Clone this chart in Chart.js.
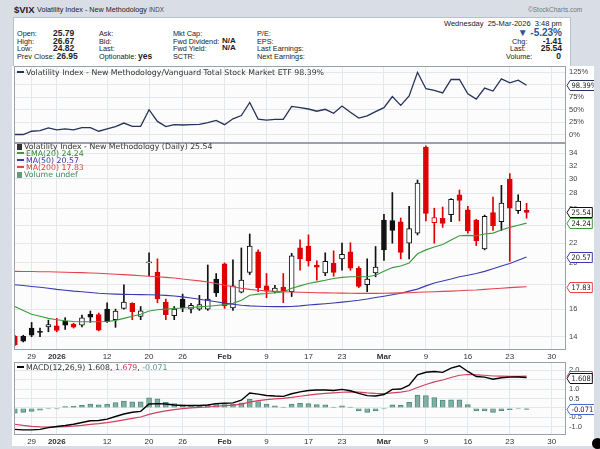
<!DOCTYPE html>
<html>
<head>
<meta charset="utf-8">
<script src="https://cdn.jsdelivr.net/npm/chart.js@4.4.1/dist/chart.umd.min.js"></script>
<style>
  body { margin: 0; width: 600px; height: 449px; background: #d9dee6; position: relative; overflow: hidden;
         font-family: "Liberation Sans", Arial, sans-serif; color: #222; }
  .abs { position: absolute; white-space: nowrap; line-height: 1; }
  #info { position: absolute; left: 13px; top: 17px; width: 556px; height: 50px; background: #fff; border: 1px solid #b9c0cb; }
  .lab { font-size: 7.3px; }
  .val { font-size: 8.5px; font-weight: bold; }
  canvas { position: absolute; left: 12px; background: #fff; }
  .lg { position: absolute; font: 7.8px "DejaVu Sans", sans-serif; color: #333; white-space: nowrap; line-height: 7px; }
  .sw { display: inline-block; width: 7px; height: 2px; vertical-align: middle; margin-right: 2px; position: relative; top: -1px; }
</style>
</head>
<body>
<div class="abs" style="left:14px;top:4.5px;font-size:9.5px;font-weight:bold;">$VIX</div>
<div class="abs" style="left:37px;top:6px;font-size:7.2px;">Volatility Index - New Methodology <span style="font-size:6.3px;color:#444">INDX</span></div>
<div class="abs" style="left:528px;top:7px;font-size:6.5px;color:#777;">&copy;StockCharts.com</div>

<div id="info"></div>
<div class="abs" style="left:444px;top:20px;font-size:7.5px;">Wednesday&nbsp; 25-Mar-2026&nbsp; 3:48 pm</div>

<div class="abs lab" style="left:17px;top:29.5px;">Open:</div><div class="abs val" style="left:53px;top:28.5px;">25.79</div>
<div class="abs lab" style="left:17px;top:37.5px;">High:</div><div class="abs val" style="left:53px;top:36.5px;">26.67</div>
<div class="abs lab" style="left:17px;top:45px;">Low:</div><div class="abs val" style="left:53px;top:44px;">24.82</div>
<div class="abs lab" style="left:17px;top:52.5px;">Prev Close:</div><div class="abs val" style="left:56.5px;top:51.5px;">26.95</div>

<div class="abs lab" style="left:99px;top:29.5px;">Ask:</div>
<div class="abs lab" style="left:99px;top:37.5px;">Bid:</div>
<div class="abs lab" style="left:99px;top:45px;">Last:</div>
<div class="abs lab" style="left:99px;top:52.5px;">Optionable:</div><div class="abs val" style="left:138px;top:52px;">yes</div>

<div class="abs lab" style="left:173px;top:29.5px;">Mkt Cap:</div>
<div class="abs lab" style="left:173px;top:37.5px;">Fwd Dividend:</div><div class="abs val" style="left:222px;top:36.5px;font-size:8px;">N/A</div>
<div class="abs lab" style="left:173px;top:45px;">Fwd Yield:</div><div class="abs val" style="left:222px;top:44px;font-size:8px;">N/A</div>
<div class="abs lab" style="left:173px;top:52.5px;">SCTR:</div>

<div class="abs lab" style="left:257px;top:29.5px;">P/E:</div>
<div class="abs lab" style="left:257px;top:37.5px;">EPS:</div>
<div class="abs lab" style="left:257px;top:45px;">Last Earnings:</div>
<div class="abs lab" style="left:257px;top:52.5px;">Next Earnings:</div>

<div class="abs" style="right:38px;top:27.5px;font-size:10px;font-weight:bold;color:#2f5597;">&#9660; -5.23%</div>
<div class="abs lab" style="left:512px;top:37.5px;">Chg:</div><div class="abs val" style="right:38px;top:36.5px;">-1.41</div>
<div class="abs lab" style="left:510px;top:45px;">Last:</div><div class="abs val" style="right:38px;top:44px;">25.54</div>
<div class="abs lab" style="left:506px;top:52.5px;">Volume:</div><div class="abs val" style="right:39px;top:51.5px;">0</div>

<canvas id="ratioChart" width="582" height="77" style="top:66px"></canvas>
<canvas id="priceChart" width="582" height="218" style="top:143px"></canvas>
<canvas id="macdChart" width="582" height="85" style="top:361px"></canvas>

<div class="lg" style="left:17px;top:69px;"><span class="sw" style="background:#26335a"></span>Volatility Index - New Methodology/Vanguard Total Stock Market ETF 98.39%</div>

<div class="lg" style="left:17px;top:143px;"><span class="sw" style="width:5px;height:6px;background:#333;top:0"></span>Volatility Index - New Methodology (Daily) 25.54</div>
<div class="lg" style="left:17px;top:150px;color:#2f8a2f"><span class="sw" style="background:#3c9a3c"></span>EMA(20) 24.24</div>
<div class="lg" style="left:17px;top:157px;color:#3535a8"><span class="sw" style="background:#3b3bb0"></span>MA(50) 20.57</div>
<div class="lg" style="left:17px;top:164px;color:#d83a3a"><span class="sw" style="background:#e8424a"></span>MA(200) 17.83</div>
<div class="lg" style="left:17px;top:171px;color:#3b8a5a"><span class="sw" style="width:5px;height:6px;background:#6a9a7a;top:0"></span>Volume undef</div>

<div class="lg" style="left:17px;top:364px;"><span class="sw" style="background:#000"></span>MACD(12,26,9) 1.608, <span style="color:#c8385a">1.679</span>, <span style="color:#5a9a8a">-0.071</span></div>

<div class="abs" style="left:592px;top:438px;width:11px;height:11px;border-radius:6px;background:#000;"></div>

<script>
// trading days shown on the chart, plus the empty days at the right edge
const days = ['Dec 24','Dec 26','Dec 29','Dec 30','Dec 31','Jan 2','Jan 5','Jan 6','Jan 7','Jan 8','Jan 9',
  'Jan 12','Jan 13','Jan 14','Jan 15','Jan 16','Jan 20','Jan 21','Jan 22','Jan 23','Jan 26','Jan 27','Jan 28',
  'Jan 29','Jan 30','Feb 2','Feb 3','Feb 4','Feb 5','Feb 6','Feb 9','Feb 10','Feb 11','Feb 12','Feb 13',
  'Feb 17','Feb 18','Feb 19','Feb 20','Feb 23','Feb 24','Feb 25','Feb 26','Feb 27','Mar 2','Mar 3','Mar 4',
  'Mar 5','Mar 6','Mar 9','Mar 10','Mar 11','Mar 12','Mar 13','Mar 16','Mar 17','Mar 18','Mar 19','Mar 20',
  'Mar 23','Mar 24','Mar 25'];
const futureDays = ['Mar 26','Mar 27','Mar 30','Mar 31'];

const tickDates = ['Dec 29','Jan 2','Jan 12','Jan 20','Jan 26','Feb 2','Feb 9','Feb 17','Feb 23','Mar 2','Mar 9','Mar 16','Mar 23','Mar 30'];
const tickLabels = ['29','2026','12','20','26','Feb','9','17','23','Mar','9','16','23','30'];
const boldTicks = ['2026','Feb','Mar'];

const priorClose = 14.2;
const open  = [14.02,14.03,14.6,14.35,14.68,14.75,15.1,14.88,14.8,15.6,15.58,16.0,15.2,16.05,16.45,15.45,20.0,19.1,16.55,15.5,
  16.8,16.0,16.0,16.0,18.5,19.9,16.1,17.37,19.1,21.1,17.9,17.4,17.8,17.4,21.5,21.7,19.8,19.05,19.95,20.4,
  21.1,19.5,18.0,19.05,24.6,24.55,24.4,22.0,23.1,35.0,24.3,24.8,25.25,27.8,25.85,24.6,21.4,25.5,24.4,30.0,25.75,25.79];
const high  = [14.1,14.1,15.0,14.6,15.17,15.3,15.35,14.95,15.55,15.85,15.7,16.5,16.0,18.0,16.5,16.2,21.0,20.4,16.8,16.2,
  17.2,16.45,17.1,19.8,19.0,20.0,20.3,21.5,23.0,21.3,19.0,17.95,19.0,20.95,22.35,22.9,20.2,21.0,21.2,22.0,
  22.05,19.65,20.4,21.65,25.3,28.1,24.85,26.3,29.85,35.2,26.05,26.2,27.3,28.45,26.3,24.7,25.2,27.5,29.1,30.8,27.8,26.67];
const low   = [13.4,13.65,14.0,14.0,14.34,14.34,14.5,14.6,14.68,15.0,14.4,15.0,14.65,16.0,15.2,15.2,18.8,16.5,15.2,15.2,
  15.8,15.7,15.9,15.9,17.0,16.05,15.9,17.3,18.9,17.4,16.9,17.3,16.5,17.0,19.3,19.7,18.4,18.8,18.75,19.3,
  19.3,17.75,17.4,18.7,20.25,22.0,20.4,20.4,22.9,24.5,22.0,23.75,24.4,24.5,23.1,21.75,21.3,23.4,23.4,20.15,25.4,24.82];
const close = [13.45,13.7,14.1,14.3,14.85,14.43,14.8,14.67,15.34,15.38,14.45,15.05,15.85,16.55,15.8,15.86,20.09,16.8,15.58,16.0,
  16.1,16.3,16.35,16.8,17.3,16.25,17.9,18.4,21.7,17.75,17.45,17.7,17.45,20.7,20.4,20.2,19.6,20.15,19.1,20.85,
  19.5,17.85,18.5,19.6,21.3,23.4,21.05,23.6,29.4,25.4,24.9,24.2,27.2,27.05,23.35,22.25,25.05,23.95,26.7,26.05,26.95,25.54];

const ema20 = [16.2,15.9,15.6,15.45,15.3,15.2,15.12,15.07,15.05,15.05,15.05,15.07,15.15,15.3,15.45,15.6,15.85,15.95,16.0,16.05,
  16.08,16.12,16.17,16.22,16.28,16.35,16.45,16.7,17.1,17.2,17.25,17.32,17.38,17.7,17.9,18.1,18.25,18.4,18.55,18.65,
  18.7,18.7,18.7,18.85,19.2,19.55,19.7,20.0,20.9,21.3,21.6,21.85,22.35,22.8,22.85,22.8,23.0,23.1,23.45,23.75,24.0,24.24];
const ma50  = [18.0,17.93,17.85,17.78,17.7,17.6,17.52,17.45,17.4,17.33,17.27,17.23,17.2,17.18,17.17,17.16,17.15,17.13,17.1,17.05,
  16.97,16.88,16.78,16.68,16.58,16.47,16.38,16.3,16.25,16.22,16.2,16.19,16.19,16.2,16.25,16.32,16.37,16.42,16.48,16.55,
  16.62,16.7,16.8,16.92,17.03,17.15,17.27,17.45,17.62,17.9,18.15,18.33,18.5,18.7,18.85,19.0,19.2,19.45,19.7,19.95,20.25,20.57];
const ma200 = [19.2,19.19,19.18,19.17,19.16,19.14,19.12,19.1,19.08,19.05,19.02,18.98,18.94,18.9,18.85,18.8,18.75,18.7,18.65,18.6,
  18.5,18.42,18.34,18.24,18.1,17.95,17.82,17.7,17.6,17.52,17.47,17.43,17.4,17.38,17.36,17.34,17.32,17.3,17.29,17.28,
  17.27,17.26,17.26,17.26,17.27,17.28,17.3,17.32,17.35,17.38,17.4,17.43,17.45,17.48,17.52,17.55,17.6,17.65,17.7,17.75,17.79,17.83];

const ratioPct = [0,0,6.5,7.9,13.1,9.2,11.1,9.2,13.7,13.7,6.5,11.1,15.7,22.9,16.4,16.4,49.7,26.2,15.7,19.6,
  19.0,19.6,20.3,23.6,28.1,19.6,31.4,38.0,64.1,30.8,28.8,30.1,30.1,56.3,53.7,51.0,46.5,50.4,42.5,56.9,
  44.5,32.7,37.3,45.8,53.7,75.9,58.3,77.2,124.4,91.6,88.4,83.1,110.0,110.0,81.2,70.7,92.9,87.0,111.3,103.4,108.6,98.39];

const macdLine = [-1.13,-1.16,-1.16,-1.13,-1.04,-0.98,-0.93,-0.86,-0.77,-0.68,-0.66,-0.59,-0.45,-0.32,-0.23,-0.18,0.21,0.23,0.21,0.16,
  0.13,0.13,0.13,0.16,0.23,0.25,0.27,0.41,0.79,0.73,0.66,0.63,0.61,0.75,0.85,0.92,0.95,0.95,0.92,0.98,
  0.91,0.77,0.65,0.63,0.71,0.98,1.0,1.21,1.75,1.89,1.93,1.88,2.11,2.23,1.93,1.66,1.63,1.52,1.6,1.63,1.64,1.608];
const macdSignal = [-0.86,-0.92,-0.97,-1.0,-1.01,-1.0,-0.99,-0.96,-0.92,-0.87,-0.83,-0.78,-0.71,-0.63,-0.55,-0.48,-0.34,-0.23,-0.15,-0.09,
  -0.04,0.0,0.03,0.05,0.09,0.12,0.15,0.2,0.31,0.39,0.44,0.48,0.51,0.56,0.62,0.68,0.73,0.77,0.8,0.83,
  0.85,0.84,0.8,0.77,0.76,0.8,0.84,0.91,1.08,1.24,1.38,1.48,1.61,1.73,1.77,1.75,1.73,1.69,1.68,1.67,1.67,1.679];
const macdHist = [-0.27,-0.23,-0.18,-0.12,-0.04,-0.01,0.07,0.09,0.14,0.2,0.16,0.21,0.29,0.36,0.32,0.32,0.54,0.48,0.3,0.23,
  0.16,0.14,0.14,0.16,0.23,0.18,0.2,0.27,0.45,0.34,0.2,0.11,0.04,0.21,0.25,0.23,0.18,0.16,0.05,0.11,
  0.01,-0.16,-0.23,-0.16,-0.03,0.16,0.14,0.3,0.68,0.66,0.55,0.41,0.43,0.43,0.18,-0.16,-0.16,-0.23,-0.14,-0.09,-0.05,-0.071];

const ratioTicks = [0, 25, 50, 75, 100, 125];
const priceTicks = [14, 16, 18, 20, 22, 24, 26, 28, 30, 32, 34];
const macdTicks = [-1.0, -0.5, 0, 0.5, 1.0, 1.5, 2.0];

const allDays = days.concat(futureDays);
const tickIdx = tickDates.map(d => allDays.indexOf(d));
const pts = arr => arr.map((v, i) => ({ x: i, y: v }));

const candleColor = close.map((c, i) => c < (i ? close[i - 1] : priorClose) ? '#e00000' : '#111');
const candleFill = close.map((c, i) => c < open[i] ? candleColor[i] : '#fff');

const FONT = '"Liberation Sans", Arial, sans-serif';
const TAG_FONT = '7.5px "Liberation Sans Narrow", "DejaVu Sans Condensed", "Liberation Sans", sans-serif';
Chart.defaults.font.family = FONT;
Chart.defaults.font.size = 8;
Chart.defaults.animation = false;

function xAxis(showLabels) {
  return {
    type: 'linear', min: -0.1, max: 65.7, offset: false, bounds: 'data',
    afterBuildTicks: s => { s.ticks = tickIdx.map(v => ({ value: v })); },
    afterFit: s => { s.height = showLabels ? 11 : 0; s.paddingLeft = 0; s.paddingRight = 0; },
    grid: { color: '#e4e7ec', drawTicks: false, offset: false },
    border: { display: false },
    ticks: {
      display: showLabels, autoSkip: false, maxRotation: 0, padding: 2, color: '#333',
      callback: v => tickLabels[tickIdx.indexOf(v)],
      font: ctx => ({ family: FONT, size: 8,
        weight: ctx.tick && boldTicks.includes(tickLabels[tickIdx.indexOf(ctx.tick.value)]) ? 'bold' : 'normal' })
    }
  };
}

function yAxis(extra, ticks, fmt) {
  return Object.assign({
    position: 'right', bounds: 'data',
    afterBuildTicks: s => { s.ticks = ticks.map(v => ({ value: v })); },
    afterFit: s => { s.width = 28; s.paddingTop = 0; s.paddingBottom = 0; },
    grid: { color: '#e4e7ec', drawTicks: false },
    border: { display: false },
    ticks: { padding: 3, color: '#444', font: { size: 7.5 }, callback: fmt }
  }, extra);
}

const panelFrame = {
  id: 'panelFrame',
  beforeDraw(chart) {
    const a = chart.chartArea, ctx = chart.ctx;
    ctx.save();
    ctx.fillStyle = '#fcfcfd';
    ctx.fillRect(a.left, a.top, a.right - a.left, a.bottom - a.top);
    ctx.restore();
  },
  afterDraw(chart) {
    const a = chart.chartArea, ctx = chart.ctx;
    ctx.save();
    ctx.strokeStyle = '#9aa1ab';
    ctx.lineWidth = 1;
    ctx.strokeRect(a.left + 0.5, a.top + 0.5, a.right - a.left - 1, a.bottom - a.top - 1);
    ctx.restore();
  }
};

// value boxes hanging off the right edge of a panel
function valueTags(items) {
  return {
    id: 'valueTags',
    afterDraw(chart) {
      const ctx = chart.ctx, y = chart.scales.y, x0 = chart.chartArea.right + 1;
      ctx.save();
      ctx.font = TAG_FONT;
      ctx.textBaseline = 'middle';
      items.forEach(t => {
        const py = Math.round(y.getPixelForValue(t.value)) + 0.5;
        const w = ctx.measureText(t.text).width + 3;
        ctx.beginPath();
        ctx.moveTo(x0, py);
        ctx.lineTo(x0 + 3, py - 5);
        ctx.lineTo(x0 + 3 + w, py - 5);
        ctx.lineTo(x0 + 3 + w, py + 5);
        ctx.lineTo(x0 + 3, py + 5);
        ctx.closePath();
        ctx.fillStyle = '#fff';
        ctx.fill();
        ctx.strokeStyle = t.color;
        ctx.lineWidth = 1;
        ctx.stroke();
        ctx.fillStyle = '#222';
        ctx.fillText(t.text, x0 + 4.5, py + 0.5);
      });
      ctx.restore();
    }
  };
}

const last = arr => arr[arr.length - 1];
const lineDs = (data, color, width, order) => ({
  type: 'line', data: pts(data), borderColor: color, borderWidth: width,
  pointRadius: 0, tension: 0, order: order
});
const baseOpts = (padTop) => ({
  responsive: false,
  layout: { padding: { left: 2, right: 0, top: padTop, bottom: 0 } },
  plugins: { legend: { display: false }, tooltip: { enabled: false } },
  events: []
});

new Chart(document.getElementById('ratioChart'), {
  type: 'line',
  data: { datasets: [lineDs(ratioPct, '#26335a', 1.3, 0)] },
  options: Object.assign(baseOpts(0), {
    scales: {
      x: xAxis(false),
      y: yAxis({ type: 'linear', min: -17, max: 137 }, ratioTicks, v => v + '%')
    }
  }),
  plugins: [panelFrame, valueTags([{ value: last(ratioPct), text: last(ratioPct).toFixed(2) + '%', color: '#26335a' }])]
});

new Chart(document.getElementById('priceChart'), {
  type: 'bar',
  data: {
    datasets: [
      { data: days.map((d, i) => ({ x: i, y: [low[i], high[i]] })), backgroundColor: candleColor,
        barThickness: 1, grouped: false, minBarLength: 1, order: 3 },
      { data: days.map((d, i) => ({ x: i, y: [open[i], close[i]] })), backgroundColor: candleFill,
        borderColor: candleColor, borderWidth: 1, borderSkipped: false, barThickness: 5,
        grouped: false, minBarLength: 1, order: 2 },
      lineDs(ma200, '#e8424a', 1.1, 1),
      lineDs(ma50, '#3b3bb0', 1.1, 1),
      lineDs(ema20, '#3c9a3c', 1.1, 1)
    ]
  },
  options: Object.assign(baseOpts(0), {
    scales: {
      x: xAxis(true),
      y: yAxis({ type: 'logarithmic', min: 13.13, max: 35.7 }, priceTicks, v => String(v))
    }
  }),
  plugins: [panelFrame, valueTags([
    { value: last(ma200), text: last(ma200).toFixed(2), color: '#e8424a' },
    { value: last(ma50), text: last(ma50).toFixed(2), color: '#3b3bb0' },
    { value: last(ema20), text: last(ema20).toFixed(2), color: '#3c9a3c' },
    { value: last(close), text: last(close).toFixed(2), color: '#111' }
  ])]
});

new Chart(document.getElementById('macdChart'), {
  type: 'bar',
  data: {
    datasets: [
      { data: pts(macdHist), backgroundColor: '#7fb0a2', borderColor: '#4f8c7c', borderWidth: 1,
        barThickness: 5, grouped: false, minBarLength: 1, order: 3 },
      lineDs(macdSignal, '#d0405e', 1.2, 2),
      lineDs(macdLine, '#000', 1.4, 1)
    ]
  },
  options: Object.assign(baseOpts(1), {
    scales: {
      x: xAxis(true),
      y: yAxis({ type: 'linear', min: -1.43, max: 2.43 }, macdTicks, v => v === 0 ? '0' : v.toFixed(1))
    }
  }),
  plugins: [panelFrame, valueTags([
    { value: last(macdHist), text: last(macdHist).toFixed(3), color: '#4a6cc8' },
    { value: last(macdSignal), text: last(macdSignal).toFixed(3), color: '#d0405e' },
    { value: last(macdLine), text: last(macdLine).toFixed(3), color: '#111' }
  ])]
});
</script>
</body>
</html>
